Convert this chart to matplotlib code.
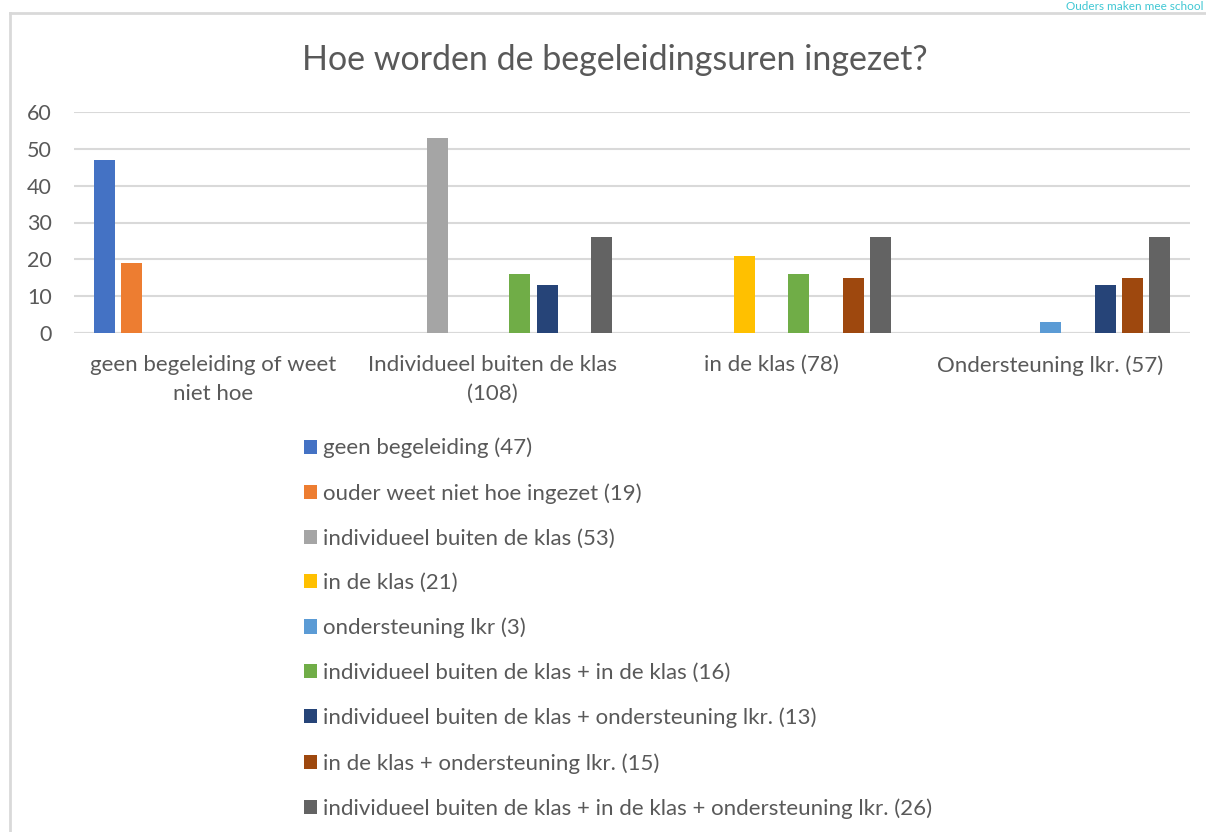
import numpy as np
import matplotlib.pyplot as plt
from matplotlib.patches import Patch
from matplotlib.lines import Line2D

plt.rcParams['font.family'] = ['Lato', 'DejaVu Sans']

categories = ["geen begeleiding of weet\nniet hoe", "Individueel buiten de klas\n(108)",
              "in de klas (78)", "Ondersteuning lkr. (57)"]
series_names = ["geen begeleiding (47)", "ouder weet niet hoe ingezet (19)",
                "individueel buiten de klas (53)", "in de klas (21)", "ondersteuning lkr (3)",
                "individueel buiten de klas + in de klas (16)",
                "individueel buiten de klas + ondersteuning lkr. (13)",
                "in de klas + ondersteuning lkr. (15)",
                "individueel buiten de klas + in de klas + ondersteuning lkr. (26)"]
# one row per series, one value per category (0 = not drawn)
values = [
    [47, 0, 0, 0],
    [19, 0, 0, 0],
    [0, 53, 0, 0],
    [0, 0, 21, 0],
    [0, 0, 0, 3],
    [0, 16, 16, 0],
    [0, 13, 0, 13],
    [0, 0, 15, 15],
    [0, 26, 26, 26],
]
colors = ["#4472C4", "#ED7D31", "#A5A5A5", "#FFC000", "#5B9BD5",
          "#70AD47", "#264478", "#9E480E", "#636363"]
yticks = [0, 10, 20, 30, 40, 50, 60]

TXT = "#595959"
GRID = "#D9D9D9"

fig = plt.figure(figsize=(12.06, 8.32), dpi=100)
ax = fig.add_axes([74 / 1206, 1 - 333 / 832, (1190 - 74) / 1206, (333 - 112) / 832])

x = np.arange(len(categories))
slot = 0.098
width = 0.075
n = len(values)
for i, (vals, c) in enumerate(zip(values, colors)):
    off = (i - (n - 1) / 2) * slot
    v = np.array(vals, dtype=float)
    mask = v > 0
    ax.bar(x[mask] + off, v[mask], width=width, color=c, zorder=3)

ax.set_xlim(-0.5, len(categories) - 0.5)
ax.set_ylim(0, 60)
ax.set_yticks(yticks)
ax.yaxis.grid(True, color=GRID, linewidth=1.5, zorder=0)
for s in ax.spines.values():
    s.set_visible(False)
ax.axhline(0, color=GRID, linewidth=1.5, zorder=1)
ax.tick_params(axis='y', length=0, pad=16, labelsize=15.5, labelcolor=TXT)
ax.set_xticks(x)
ax.set_xticklabels(categories, fontsize=16, color=TXT, linespacing=1.55)
ax.tick_params(axis='x', length=0, pad=16)

fig.text(615 / 1206, 1 - 60 / 832, "Hoe worden de begeleidingsuren ingezet?",
         ha='center', va='center', fontsize=24.5, color=TXT)

handles = [Patch(facecolor=c, edgecolor='none') for c in colors]
fig.legend(handles, series_names, loc='upper left', bbox_to_anchor=(295 / 1206, 1 - 429 / 832),
           frameon=False, fontsize=16, labelcolor=TXT, handlelength=0.6, handleheight=0.6,
           handletextpad=0.25, labelspacing=1.11, borderaxespad=0)

# outer chart frame (top + left visible)
fig.add_artist(Line2D([10 / 1206, 1], [1 - 13 / 832, 1 - 13 / 832], color=GRID, linewidth=2,
                      transform=fig.transFigure))
fig.add_artist(Line2D([10 / 1206, 10 / 1206], [0, 1 - 13 / 832], color=GRID, linewidth=2,
                      transform=fig.transFigure))
fig.text(1204 / 1206, 1 - 1 / 832, "Ouders maken mee school", ha='right', va='top',
         fontsize=8.5, color="#3FC7D3")

fig.savefig("out.png", dpi=100)
